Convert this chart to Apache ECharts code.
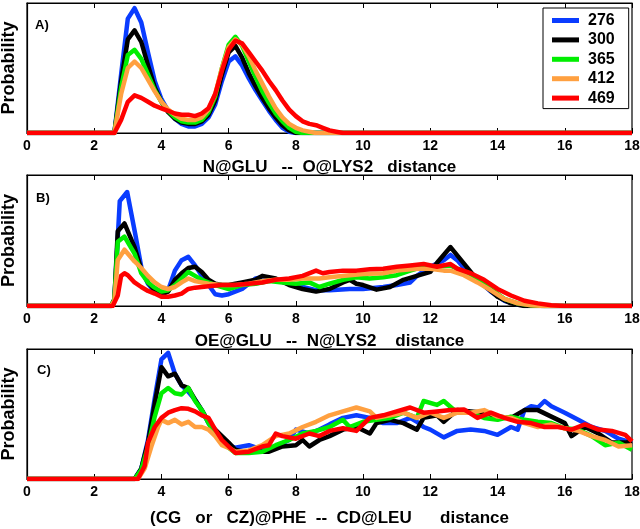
<!DOCTYPE html>
<html><head><meta charset="utf-8">
<script src="https://cdn.jsdelivr.net/npm/echarts@6/dist/echarts.min.js"></script>
<style>html,body{margin:0;padding:0;background:#fff}#c{width:640px;height:529px}</style>
</head><body><div id="c"></div>
<script>
const seriesNames = ['276','300','365','412','469'];
const colors = ['#0a3cff','#000000','#00ee00','#ffa040','#ff0000'];
const xTicks = {min:0, max:18, interval:2};
const xTitles = ['N@GLU   --  O@LYS2   distance','OE@GLU   --  N@LYS2    distance','(CG   or   CZ)@PHE  --  CD@LEU      distance'];
const panelLabels = ['A)','B)','C)'];

// Panel A
const A_276 = [[0,0],[2.6,0],[2.8,0.45],[3.0,0.88],[3.2,0.96],[3.4,0.85],[3.6,0.62],[3.8,0.40],[4.0,0.26],[4.2,0.17],[4.4,0.11],[4.6,0.07],[4.8,0.05],[5.0,0.05],[5.2,0.07],[5.4,0.12],[5.6,0.22],[5.8,0.40],[6.0,0.55],[6.2,0.59],[6.4,0.52],[6.6,0.42],[6.8,0.33],[7.0,0.25],[7.2,0.17],[7.4,0.10],[7.6,0.04],[7.8,0.01],[8.0,0],[18,0]];
const A_300 = [[0,0],[2.6,0],[2.8,0.40],[3.0,0.72],[3.2,0.79],[3.4,0.70],[3.6,0.52],[3.8,0.35],[4.0,0.24],[4.2,0.16],[4.4,0.11],[4.6,0.08],[4.8,0.07],[5.0,0.07],[5.2,0.09],[5.4,0.14],[5.6,0.25],[5.8,0.45],[6.0,0.62],[6.2,0.67],[6.4,0.58],[6.6,0.46],[6.8,0.36],[7.0,0.27],[7.2,0.19],[7.4,0.12],[7.6,0.06],[7.8,0.02],[8.0,0],[18,0]];
const A_365 = [[0,0],[2.6,0],[2.8,0.35],[3.0,0.60],[3.2,0.64],[3.4,0.57],[3.6,0.45],[3.8,0.33],[4.0,0.24],[4.2,0.17],[4.4,0.12],[4.6,0.09],[4.8,0.08],[5.0,0.08],[5.2,0.10],[5.4,0.16],[5.6,0.28],[5.8,0.50],[6.0,0.68],[6.2,0.74],[6.4,0.67],[6.6,0.55],[6.8,0.43],[7.0,0.32],[7.2,0.23],[7.4,0.15],[7.6,0.09],[7.8,0.04],[8.0,0.01],[8.2,0],[18,0]];
const A_412 = [[0,0],[2.6,0],[2.8,0.30],[3.0,0.50],[3.2,0.55],[3.4,0.50],[3.6,0.41],[3.8,0.32],[4.0,0.24],[4.2,0.18],[4.4,0.14],[4.6,0.11],[4.8,0.10],[5.0,0.10],[5.2,0.12],[5.4,0.18],[5.6,0.30],[5.8,0.50],[6.0,0.66],[6.2,0.72],[6.4,0.68],[6.6,0.59],[6.8,0.48],[7.0,0.38],[7.2,0.28],[7.4,0.19],[7.6,0.12],[7.8,0.07],[8.0,0.04],[8.2,0.02],[8.4,0.01],[8.6,0],[18,0]];
const A_469 = [[0,0],[2.6,0],[2.8,0.10],[3.0,0.24],[3.2,0.29],[3.4,0.27],[3.6,0.24],[3.8,0.21],[4.0,0.19],[4.2,0.17],[4.4,0.15],[4.6,0.14],[4.8,0.14],[5.0,0.13],[5.2,0.15],[5.4,0.19],[5.6,0.30],[5.8,0.48],[6.0,0.64],[6.2,0.71],[6.4,0.69],[6.6,0.62],[6.8,0.55],[7.0,0.48],[7.2,0.40],[7.4,0.33],[7.6,0.25],[7.8,0.18],[8.0,0.13],[8.2,0.09],[8.4,0.07],[8.6,0.06],[8.8,0.04],[9.0,0.02],[9.2,0.01],[9.4,0],[18,0]];

// Panel B
const B_276 = [[0,0],[2.5,0],[2.6,0.05],[2.76,0.80],[2.98,0.87],[3.22,0.55],[3.42,0.27],[3.6,0.17],[3.8,0.11],[4.0,0.08],[4.2,0.12],[4.4,0.27],[4.6,0.35],[4.8,0.375],[5.0,0.31],[5.2,0.23],[5.4,0.16],[5.6,0.09],[5.8,0.08],[6.0,0.09],[6.4,0.13],[6.8,0.21],[7.0,0.22],[7.4,0.20],[7.8,0.17],[8.2,0.145],[8.6,0.12],[9.0,0.12],[9.6,0.13],[10.0,0.13],[10.6,0.145],[11.0,0.16],[11.4,0.18],[11.6,0.23],[12.0,0.30],[12.4,0.35],[12.6,0.39],[12.8,0.35],[13.0,0.29],[13.4,0.20],[13.8,0.11],[14.2,0.04],[14.6,0.01],[15.0,0.005],[15.4,0],[18,0]];
const B_300 = [[0,0],[2.5,0],[2.6,0.05],[2.7,0.57],[2.9,0.63],[3.2,0.45],[3.4,0.28],[3.6,0.18],[3.8,0.12],[4.0,0.09],[4.2,0.11],[4.4,0.20],[4.6,0.25],[4.8,0.29],[5.0,0.30],[5.2,0.26],[5.4,0.20],[5.6,0.17],[5.8,0.16],[6.0,0.16],[6.4,0.18],[6.8,0.20],[7.0,0.23],[7.4,0.21],[7.8,0.16],[8.2,0.13],[8.6,0.11],[9.0,0.13],[9.4,0.18],[9.6,0.20],[9.8,0.17],[10.0,0.16],[10.4,0.125],[10.8,0.145],[11.2,0.20],[11.6,0.23],[12.0,0.26],[12.2,0.33],[12.6,0.45],[13.3,0.23],[13.6,0.16],[14.0,0.07],[14.4,0.02],[14.8,0],[18,0]];
const B_365 = [[0,0],[2.5,0],[2.6,0.05],[2.7,0.49],[2.9,0.53],[3.2,0.40],[3.4,0.25],[3.6,0.18],[3.8,0.14],[4.0,0.11],[4.2,0.12],[4.4,0.16],[4.6,0.21],[4.8,0.26],[5.0,0.23],[5.2,0.20],[5.6,0.16],[6.0,0.13],[6.4,0.16],[6.8,0.17],[7.2,0.19],[7.6,0.18],[8.0,0.17],[8.4,0.18],[8.7,0.145],[9.0,0.17],[9.4,0.20],[9.8,0.22],[10.2,0.21],[10.6,0.22],[11.0,0.235],[11.4,0.27],[11.8,0.30],[12.2,0.30],[12.6,0.31],[13.0,0.26],[13.4,0.21],[13.8,0.13],[14.2,0.055],[14.6,0.02],[15.0,0.005],[15.4,0],[18,0]];
const B_412 = [[0,0],[2.5,0],[2.6,0.04],[2.7,0.35],[2.9,0.43],[3.2,0.34],[3.4,0.29],[3.6,0.23],[3.8,0.18],[4.0,0.145],[4.2,0.13],[4.4,0.145],[4.6,0.18],[4.8,0.21],[5.0,0.19],[5.4,0.17],[5.8,0.16],[6.2,0.16],[6.6,0.17],[7.0,0.19],[7.4,0.20],[7.8,0.20],[8.2,0.21],[8.7,0.21],[9.0,0.22],[9.6,0.235],[10.0,0.245],[10.6,0.25],[11.0,0.27],[11.6,0.285],[12.0,0.285],[12.4,0.27],[12.6,0.27],[13.0,0.235],[13.4,0.18],[13.8,0.12],[14.2,0.055],[14.6,0.02],[15.0,0.005],[15.4,0],[18,0]];
const B_469 = [[0,0],[2.55,0],[2.7,0.08],[2.8,0.23],[2.9,0.25],[3.0,0.235],[3.2,0.18],[3.4,0.145],[3.6,0.115],[3.8,0.095],[4.0,0.07],[4.2,0.07],[4.4,0.08],[4.6,0.095],[4.8,0.13],[5.0,0.14],[5.4,0.15],[5.8,0.16],[6.2,0.16],[6.6,0.17],[7.0,0.18],[7.4,0.20],[7.8,0.21],[8.2,0.23],[8.6,0.27],[8.8,0.25],[9.0,0.26],[9.4,0.27],[9.8,0.27],[10.2,0.28],[10.6,0.285],[11.0,0.30],[11.4,0.31],[11.8,0.32],[12.2,0.30],[12.6,0.32],[12.8,0.285],[13.2,0.25],[13.6,0.20],[14.0,0.13],[14.4,0.08],[14.8,0.04],[15.2,0.02],[15.6,0.005],[16.0,0],[18,0]];

// Panel C
const C_276 = [[0,0],[3.2,0],[3.4,0.08],[3.6,0.30],[3.8,0.62],[4.0,0.92],[4.2,0.97],[4.4,0.81],[4.6,0.72],[4.8,0.67],[5.0,0.61],[5.2,0.53],[5.4,0.43],[5.6,0.35],[5.8,0.30],[6.0,0.26],[6.2,0.24],[6.4,0.25],[6.6,0.26],[7.0,0.225],[7.4,0.25],[7.8,0.30],[8.0,0.38],[8.4,0.35],[8.7,0.38],[9.0,0.42],[9.4,0.47],[9.8,0.49],[10.2,0.47],[10.6,0.43],[11.0,0.43],[11.4,0.47],[11.6,0.44],[11.8,0.40],[12.0,0.38],[12.4,0.32],[12.8,0.37],[13.2,0.38],[13.6,0.37],[14.0,0.34],[14.4,0.40],[14.6,0.38],[14.8,0.53],[15.0,0.56],[15.2,0.55],[15.4,0.60],[15.6,0.56],[16.0,0.51],[16.4,0.455],[16.8,0.40],[17.2,0.37],[17.6,0.31],[18.0,0.28]];
const C_300 = [[0,0],[3.2,0],[3.4,0.08],[3.6,0.28],[3.8,0.58],[4.0,0.86],[4.2,0.79],[4.4,0.81],[4.6,0.72],[4.8,0.70],[5.0,0.61],[5.2,0.53],[5.4,0.44],[5.6,0.38],[5.8,0.33],[6.0,0.28],[6.2,0.225],[6.4,0.21],[6.8,0.21],[7.2,0.21],[7.6,0.25],[8.0,0.26],[8.2,0.30],[8.4,0.25],[8.7,0.30],[9.0,0.33],[9.4,0.38],[9.8,0.40],[10.2,0.35],[10.4,0.43],[10.8,0.455],[11.2,0.43],[11.6,0.38],[11.8,0.47],[12.2,0.49],[12.4,0.44],[12.8,0.53],[13.2,0.52],[13.6,0.51],[14.0,0.48],[14.4,0.47],[14.8,0.53],[15.2,0.53],[15.6,0.48],[16.0,0.43],[16.2,0.33],[16.6,0.40],[17.0,0.35],[17.4,0.28],[17.8,0.28],[18.0,0.29]];
const C_365 = [[0,0],[3.2,0],[3.4,0.07],[3.6,0.25],[3.8,0.48],[4.0,0.66],[4.2,0.70],[4.4,0.66],[4.6,0.65],[4.8,0.70],[5.0,0.60],[5.2,0.53],[5.4,0.43],[5.6,0.34],[5.8,0.28],[6.0,0.24],[6.2,0.20],[6.6,0.20],[7.0,0.21],[7.4,0.26],[7.8,0.30],[8.2,0.35],[8.6,0.37],[9.0,0.40],[9.4,0.455],[9.6,0.40],[10.0,0.44],[10.4,0.455],[10.8,0.47],[11.2,0.51],[11.6,0.47],[11.8,0.60],[12.2,0.57],[12.4,0.60],[12.8,0.51],[13.2,0.51],[13.6,0.47],[14.0,0.455],[14.4,0.48],[14.8,0.455],[15.2,0.44],[15.6,0.43],[16.0,0.39],[16.4,0.38],[16.8,0.33],[17.2,0.26],[17.6,0.28],[18.0,0.225]];
const C_412 = [[0,0],[3.3,0],[3.5,0.08],[3.7,0.25],[3.9,0.40],[4.0,0.455],[4.2,0.43],[4.4,0.455],[4.6,0.42],[4.8,0.44],[5.0,0.40],[5.2,0.40],[5.4,0.38],[5.6,0.33],[5.8,0.26],[6.0,0.24],[6.2,0.21],[6.6,0.22],[7.0,0.26],[7.4,0.33],[7.8,0.35],[8.2,0.40],[8.6,0.44],[9.0,0.49],[9.4,0.52],[9.8,0.55],[10.2,0.52],[10.4,0.47],[10.8,0.49],[11.2,0.51],[11.6,0.47],[12.0,0.51],[12.4,0.47],[12.8,0.51],[13.2,0.51],[13.6,0.53],[14.0,0.48],[14.4,0.47],[14.8,0.43],[15.2,0.40],[15.6,0.42],[16.0,0.39],[16.4,0.37],[16.8,0.33],[17.2,0.30],[17.6,0.25],[18.0,0.26]];
const C_469 = [[0,0],[3.3,0],[3.5,0.10],[3.6,0.28],[3.8,0.40],[4.0,0.47],[4.2,0.51],[4.4,0.53],[4.6,0.545],[4.8,0.54],[5.0,0.52],[5.2,0.49],[5.4,0.47],[5.6,0.38],[5.8,0.30],[6.0,0.25],[6.2,0.20],[6.6,0.21],[7.0,0.25],[7.2,0.26],[7.4,0.35],[7.6,0.33],[8.0,0.31],[8.4,0.35],[8.7,0.33],[9.0,0.37],[9.4,0.39],[9.8,0.37],[10.2,0.47],[10.6,0.49],[11.0,0.52],[11.4,0.55],[11.8,0.51],[12.2,0.52],[12.6,0.53],[13.0,0.535],[13.4,0.47],[13.8,0.51],[14.2,0.47],[14.6,0.44],[15.0,0.43],[15.4,0.40],[15.8,0.40],[16.2,0.38],[16.6,0.42],[17.0,0.38],[17.4,0.37],[17.8,0.34],[18.0,0.29]];

const panels = [[A_276,A_300,A_365,A_412,A_469],[B_276,B_300,B_365,B_412,B_469],[C_276,C_300,C_365,C_412,C_469]];

const FONT = '"Liberation Sans", Arial, sans-serif';
const gridTops = [3, 175, 349];
const gridHeights = [130, 131, 130];
const nameGaps = [26, 27, 31];

const grids = [], xAxes = [], yAxes = [], series = [], graphics = [];
for (let p = 0; p < 3; p++) {
  grids.push({left: 27, right: 8, top: gridTops[p], height: gridHeights[p], show: true, borderColor: '#000', borderWidth: 1.2, backgroundColor: 'transparent', containLabel: false, outerBoundsMode: 'none'});
  xAxes.push({type: 'value', gridIndex: p, min: xTicks.min, max: xTicks.max, interval: xTicks.interval, position: 'bottom',
    axisLine: {show: true, lineStyle: {color: '#000', width: 1.2}},
    axisTick: {show: true, inside: true, length: 5, lineStyle: {color: '#000', width: 1}},
    axisLabel: {color: '#000', fontFamily: FONT, fontWeight: 'bold', fontSize: 14, margin: 6},
    splitLine: {show: false},
    name: xTitles[p], nameLocation: 'middle', nameGap: nameGaps[p],
    nameTextStyle: {color: '#000', fontFamily: FONT, fontWeight: 'bold', fontSize: 17}});
  xAxes.push({type: 'value', gridIndex: p, min: xTicks.min, max: xTicks.max, interval: xTicks.interval, position: 'top',
    axisLine: {show: true, lineStyle: {color: '#000', width: 1.2}},
    axisTick: {show: true, inside: true, length: 5, lineStyle: {color: '#000', width: 1}},
    axisLabel: {show: false}, splitLine: {show: false}});
  yAxes.push({type: 'value', gridIndex: p, min: 0, max: 1,
    axisLine: {show: true, lineStyle: {color: '#000', width: 1.2}},
    axisTick: {show: false}, axisLabel: {show: false}, splitLine: {show: false},
    name: 'Probability', nameLocation: 'middle', nameRotate: 90, nameGap: 9,
    nameTextStyle: {color: '#000', fontFamily: FONT, fontWeight: 'bold', fontSize: 18}});
  for (let s = 0; s < 5; s++) {
    series.push({type: 'line', name: seriesNames[s], xAxisIndex: p * 2, yAxisIndex: p,
      data: panels[p][s], showSymbol: false, symbol: 'none', animation: false,
      lineStyle: {color: colors[s], width: 4.5, join: 'round'}, itemStyle: {color: colors[s]}, z: 2 + s});
  }
}
const labelPos = [[35, 19], [36, 192], [37, 364]];
for (let p = 0; p < 3; p++) {
  graphics.push({type: 'text', left: labelPos[p][0], top: labelPos[p][1],
    style: {text: panelLabels[p], fill: '#000', font: 'bold 13px ' + FONT}});
}

const chart = echarts.init(document.getElementById('c'), null, {renderer: 'canvas'});
chart.setOption({
  animation: false,
  backgroundColor: '#fff',
  grid: grids, xAxis: xAxes, yAxis: yAxes, series: series, graphic: graphics,
  legend: {data: seriesNames, orient: 'vertical', left: 543, top: 8,
    itemWidth: 27, itemHeight: 5, itemGap: 0.4, icon: 'rect',
    padding: [3, 14, 1, 9], borderColor: '#000', borderWidth: 1, backgroundColor: '#fff',
    textStyle: {color: '#000', fontFamily: FONT, fontWeight: 'bold', fontSize: 16, lineHeight: 19, padding: [0, 0, 0, 4]}}
});
</script>
</body></html>
